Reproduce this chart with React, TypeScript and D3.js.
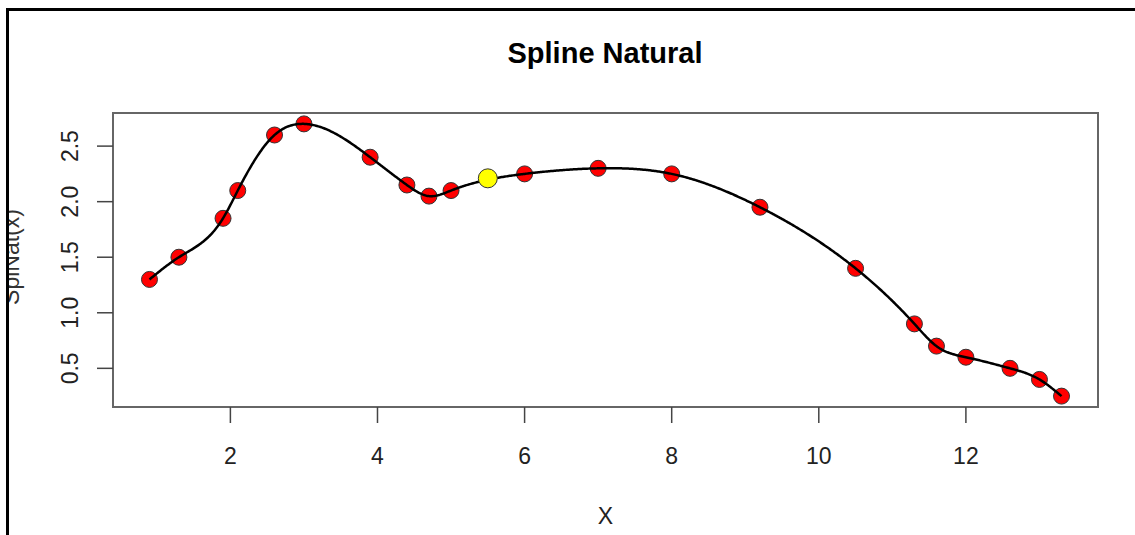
import React from "react";
import * as d3 from "d3";

// Knots of the natural spline
const knotX = [0.9, 1.3, 1.9, 2.1, 2.6, 3.0, 3.9, 4.4, 4.7, 5.0, 6.0, 7.0, 8.0, 9.2, 10.5, 11.3, 11.6, 12.0, 12.6, 13.0, 13.3];
const knotY = [1.3, 1.5, 1.85, 2.1, 2.6, 2.7, 2.4, 2.15, 2.05, 2.1, 2.25, 2.3, 2.25, 1.95, 1.4, 0.9, 0.7, 0.6, 0.5, 0.4, 0.25];

// Highlighted evaluation point
const evalX = [5.5];
const evalY = [2.21];

const xTicks = [2, 4, 6, 8, 10, 12];
const yTicks = [0.5, 1.0, 1.5, 2.0, 2.5];

const W = 1135;
const H = 535;
const plot = { left: 113, right: 1098, top: 113, bottom: 407 };

// Natural cubic spline through (xs, ys): second derivatives vanish at the ends
function naturalSpline(xs: number[], ys: number[]) {
  const n = xs.length;
  const h = xs.slice(1).map((x, i) => x - xs[i]);
  const a = new Array(n).fill(0);
  const b = new Array(n).fill(1);
  const c = new Array(n).fill(0);
  const r = new Array(n).fill(0);
  for (let i = 1; i < n - 1; i++) {
    a[i] = h[i - 1];
    b[i] = 2 * (h[i - 1] + h[i]);
    c[i] = h[i];
    r[i] = 6 * ((ys[i + 1] - ys[i]) / h[i] - (ys[i] - ys[i - 1]) / h[i - 1]);
  }
  // Thomas algorithm
  const cp = new Array(n).fill(0);
  const rp = new Array(n).fill(0);
  cp[0] = c[0] / b[0];
  rp[0] = r[0] / b[0];
  for (let i = 1; i < n; i++) {
    const m = b[i] - a[i] * cp[i - 1];
    cp[i] = c[i] / m;
    rp[i] = (r[i] - a[i] * rp[i - 1]) / m;
  }
  const M = new Array(n).fill(0);
  M[n - 1] = rp[n - 1];
  for (let i = n - 2; i >= 0; i--) M[i] = rp[i] - cp[i] * M[i + 1];
  return (x: number) => {
    let i = d3.bisectRight(xs, x) - 1;
    i = Math.max(0, Math.min(n - 2, i));
    const hi = h[i];
    const t1 = xs[i + 1] - x;
    const t0 = x - xs[i];
    return (
      (M[i] * t1 * t1 * t1) / (6 * hi) +
      (M[i + 1] * t0 * t0 * t0) / (6 * hi) +
      (ys[i] / hi - (M[i] * hi) / 6) * t1 +
      (ys[i + 1] / hi - (M[i + 1] * hi) / 6) * t0
    );
  };
}

function padded(lo: number, hi: number): [number, number] {
  const d = (hi - lo) * 0.04;
  return [lo - d, hi + d];
}

export default function App() {
  const [x0, x1] = d3.extent(knotX) as [number, number];
  const [y0, y1] = d3.extent(knotY) as [number, number];
  const xScale = d3.scaleLinear().domain(padded(x0, x1)).range([plot.left, plot.right]);
  const yScale = d3.scaleLinear().domain(padded(y0, y1)).range([plot.bottom, plot.top]);

  const f = naturalSpline(knotX, knotY);
  const samples = d3.range(0, 801).map((k) => {
    const x = x0 + ((x1 - x0) * k) / 800;
    return [x, f(x)] as [number, number];
  });
  const line = d3
    .line<[number, number]>()
    .x((d) => xScale(d[0]))
    .y((d) => yScale(d[1]));

  const font = "Liberation Sans, Arial, sans-serif";
  const tickColor = "#222";
  const yMid = (plot.top + plot.bottom) / 2;
  const xMid = (plot.left + plot.right) / 2;

  return (
    <svg
      width={W}
      height={H}
      style={{ position: "absolute", left: 0, top: 0, background: "#fff" }}
      fontFamily={font}
    >
      <defs>
        <clipPath id="inner">
          <rect x={9} y={11} width={W} height={H} />
        </clipPath>
      </defs>

      <text x={605} y={63} textAnchor="middle" fontSize={29} fontWeight="bold" fill="#000">
        Spline Natural
      </text>

      {/* plot frame */}
      <rect
        x={plot.left}
        y={plot.top}
        width={plot.right - plot.left}
        height={plot.bottom - plot.top}
        fill="none"
        stroke="#666"
        strokeWidth={2}
      />

      {/* x axis */}
      {xTicks.map((t) => (
        <g key={"x" + t}>
          <line x1={xScale(t)} x2={xScale(t)} y1={plot.bottom} y2={plot.bottom + 16} stroke="#444" strokeWidth={1.5} />
          <text x={xScale(t)} y={plot.bottom + 57} textAnchor="middle" fontSize={23} fill={tickColor}>
            {t}
          </text>
        </g>
      ))}
      <text x={xMid} y={524} textAnchor="middle" fontSize={23} fill={tickColor}>
        X
      </text>

      {/* y axis */}
      {yTicks.map((t) => (
        <g key={"y" + t}>
          <line x1={plot.left - 16} x2={plot.left} y1={yScale(t)} y2={yScale(t)} stroke="#444" strokeWidth={1.5} />
          <text
            transform={`translate(${plot.left - 35},${yScale(t)}) rotate(-90)`}
            textAnchor="middle"
            fontSize={23}
            fill={tickColor}
          >
            {t.toFixed(1)}
          </text>
        </g>
      ))}
      <g clipPath="url(#inner)">
        <text
          transform={`translate(19,${yMid - 3}) rotate(-90)`}
          textAnchor="middle"
          fontSize={23}
          fill="#333"
        >
          SplNat(x)
        </text>
      </g>

      {/* knots */}
      {knotX.map((x, i) => (
        <circle key={"k" + i} cx={xScale(x)} cy={yScale(knotY[i])} r={8} fill="#ff0000" stroke="#333" strokeWidth={1} />
      ))}

      {/* spline curve */}
      <path d={line(samples) || ""} fill="none" stroke="#000" strokeWidth={2.5} />

      {/* evaluated point */}
      {evalX.map((x, i) => (
        <circle key={"e" + i} cx={xScale(x)} cy={yScale(evalY[i])} r={9.5} fill="#ffff00" stroke="#333" strokeWidth={1} />
      ))}

      {/* outer border */}
      <line x1={7.5} x2={7.5} y1={8} y2={H} stroke="#000" strokeWidth={3} />
      <line x1={6} x2={W} y1={9.5} y2={9.5} stroke="#000" strokeWidth={3} />
    </svg>
  );
}
